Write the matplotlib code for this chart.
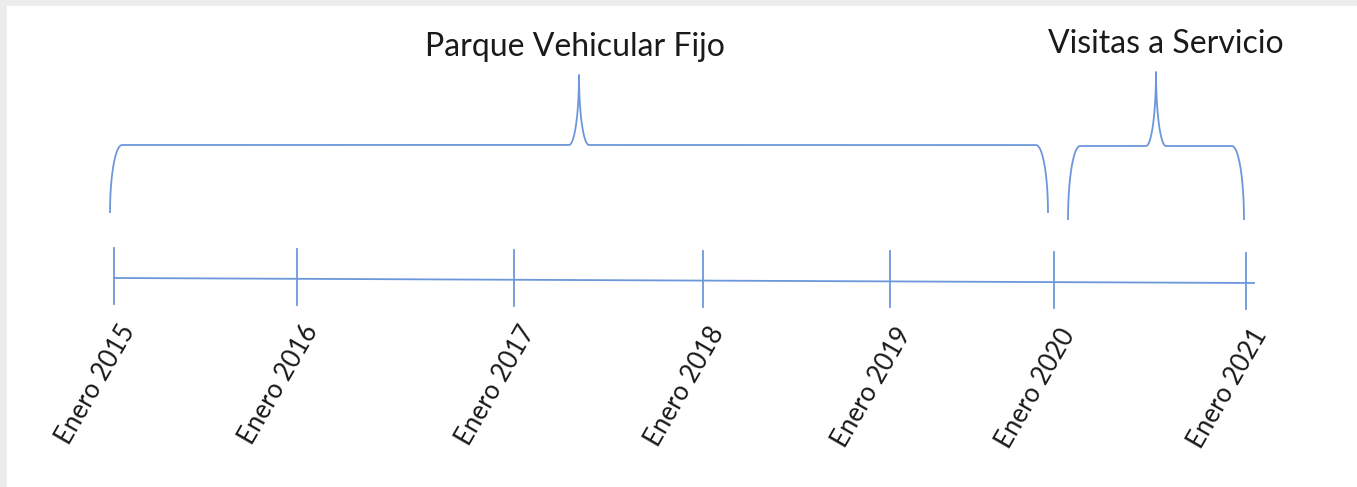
import matplotlib
matplotlib.use("Agg")
import matplotlib.pyplot as plt
import numpy as np

# etiquetas de la linea de tiempo y su posicion (px) sobre el eje
etiquetas = ["Enero 2015", "Enero 2016", "Enero 2017", "Enero 2018",
             "Enero 2019", "Enero 2020", "Enero 2021"]
posiciones = [114, 297, 514, 703, 890, 1054, 1246]

# periodos marcados con llave: (titulo, indice inicio, indice fin)
periodos = ["Parque Vehicular Fijo", "Visitas a Servicio"]
inicio_periodo = [0, 5]
fin_periodo = [5, 6]

AZUL = "#6d97dc"


def llave(ax, x0, x1, y_base, y_top, y_tip, rx=12, rt=10):
    """Dibuja una llave horizontal abierta hacia abajo"""
    xm = (x0 + x1) / 2
    t = np.linspace(0, np.pi / 2, 40)
    # extremo izquierdo
    xa = x0 + rx * (1 - np.cos(t))
    ya = y_base - (y_base - y_top) * np.sin(t)
    # subida a la punta
    xb = xm - rt + rt * np.sin(t)
    yb = y_tip + (y_top - y_tip) * np.cos(t)
    izq_x = np.concatenate([xa, xb])
    izq_y = np.concatenate([ya, yb])
    der_x = (2 * xm - izq_x)[::-1]
    der_y = izq_y[::-1]
    ax.plot(np.concatenate([izq_x, der_x]), np.concatenate([izq_y, der_y]),
            color=AZUL, lw=1.3, solid_capstyle="butt")
    return xm


def main():
    fig = plt.figure(figsize=(13.57, 4.87), dpi=100)
    fig.patch.set_facecolor("#ececec")
    ax = fig.add_axes([0, 0, 1, 1])
    ax.set_xlim(0, 1357)
    ax.set_ylim(487, 0)
    ax.axis("off")
    ax.add_patch(plt.Rectangle((7, 6), 1357, 487, color="white", zorder=0))

    plt.rcParams["font.family"] = ["Lato", "DejaVu Sans"]

    # eje principal ligeramente inclinado
    y_izq, y_der = 278, 283
    x_fin = posiciones[-1] + 8

    def y_eje(x):
        return y_izq + (y_der - y_izq) * (x - posiciones[0]) / (x_fin - posiciones[0])

    ax.plot([posiciones[0], x_fin], [y_izq, y_der], color=AZUL, lw=1.3)
    for x, txt in zip(posiciones, etiquetas):
        yc = y_eje(x)
        ax.plot([x, x], [yc - 30, yc + 26], color=AZUL, lw=1.3)
        ax.text(x + 4, yc + 42, txt, rotation=60, rotation_mode="anchor",
                ha="right", va="top", fontsize=18.5, color="#1a1a1a")

    # llaves y titulos
    gaps = [(-4, -6), (14, -2)]
    bases = [213, 220]
    tops = [145, 146]
    tips = [75, 72]
    for i, titulo in enumerate(periodos):
        x0 = posiciones[inicio_periodo[i]] + gaps[i][0]
        x1 = posiciones[fin_periodo[i]] + gaps[i][1]
        xm = llave(ax, x0, x1, bases[i], tops[i], tips[i])
        ax.text(xm - 4 if i == 0 else xm + 10, tips[i] - 19, titulo,
                ha="center", va="baseline", fontsize=23, color="#1a1a1a")

    fig.savefig("out.png", dpi=100, facecolor=fig.get_facecolor())


if __name__ == "__main__":
    main()
